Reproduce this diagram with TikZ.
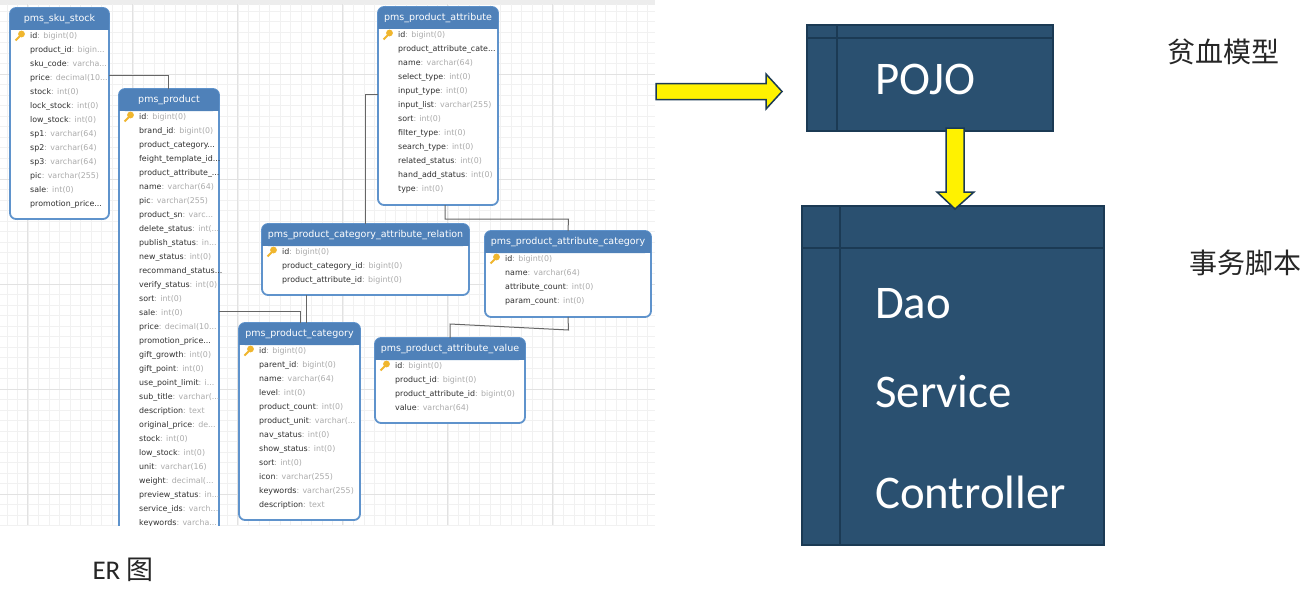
\documentclass[tikz,border=0pt]{standalone}
\usepackage{fontspec}
\setmainfont{DejaVu Sans}
\newfontfamily\carl{Carlito}
\newfontfamily\cjk{Noto Sans CJK SC}
\definecolor{tborder}{HTML}{5F93CC}
\definecolor{thead}{HTML}{4F81B9}
\definecolor{rname}{HTML}{303030}
\definecolor{rtype}{HTML}{ABABAB}
\definecolor{gridmin}{HTML}{F1F1F1}
\definecolor{gridmaj}{HTML}{E2E2E2}
\definecolor{navy}{HTML}{2A5070}
\definecolor{navyline}{HTML}{1B3A54}
\definecolor{keygold}{HTML}{F0B62E}
\definecolor{conn}{HTML}{666666}
\tikzset{
  tbl/.style={draw=tborder,line width=1.8pt,fill=white,rounded corners=6pt,anchor=north west,inner sep=0pt,outer sep=0pt},
  ttitle/.style={text=white,font=\fontsize{9.5}{11}\selectfont,inner sep=0pt},
  trow/.style={anchor=west,inner sep=0pt,font=\fontsize{7.9}{9}\selectfont},
  connline/.style={draw=conn,line width=1pt},
  bluebox/.style={fill=navy,draw=navyline,line width=1.8pt,anchor=north west,inner sep=0pt,outer sep=0pt},
  inner/.style={draw=navyline,line width=1.8pt},
  bigtext/.style={text=white,anchor=west,inner sep=0pt,font=\carl\fontsize{46.8}{52}\selectfont},
  yarrow/.style={fill=yellow,draw=navyline,line width=1.5pt,line join=miter},
  cjklabel/.style={inner sep=0pt,font=\cjk\fontsize{28}{32}\selectfont,text=black!85},
}
\newcommand\dd{...}
\catcode`\_=12
\newcommand\ertable[7]{%
  \node[tbl,minimum width=#4pt,minimum height=#5pt] (#1) at (#2,#3) {};
  \fill[thead,rounded corners=6pt] (#2,#3+22) -- (#2,#3) -- (#2+#4,#3) -- (#2+#4,#3+22) -- cycle;
  \fill[thead] (#2,#3+14) rectangle (#2+#4,#3+22);
  \node[ttitle] (#1-title) at (#2+#4/2,#3+11.5) {#6};
  \fill[keygold] (#2+11.5,#3+26) circle (3.4pt);
  \draw[keygold,line width=2pt] (#2+10,#3+28) -- (#2+5.5,#3+32.5);
  \foreach \a/\b [count=\i from 0] in {#7} {
    \node[trow] (#1-r\i) at (#2+20,#3+28+14*\i) {\textcolor{rname}{\a}\textcolor{rtype}{\b}};
  }
}
\begin{document}
\begin{tikzpicture}[x=1pt,y=-1pt]
\useasboundingbox (0,0) rectangle (1316,594);
\fill[white] (0,0) rectangle (1316,594);
\fill[black!7] (0,0) rectangle (655,5);
\begin{scope}
\clip (0,5) rectangle (655,525);
\foreach \k in {0,...,62} \draw[gridmin,line width=0.6pt] (7+10.5*\k,0) -- (7+10.5*\k,525);
\foreach \k in {0,...,50} \draw[gridmin,line width=0.6pt] (0,11+10.5*\k) -- (655,11+10.5*\k);
\foreach \k in {0,...,6} \draw[gridmaj,line width=0.8pt] (27+105*\k,0) -- (27+105*\k,525);
\foreach \k in {0,...,5} \draw[gridmaj,line width=0.8pt] (0,74+105*\k) -- (655,74+105*\k);
\ertable{skustock}{10}{8}{99}{211}{pms_sku_stock}{id/: bigint(0),product_id/: bigin\dd,sku_code/: varcha\dd,price/: decimal(10\dd,stock/: int(0),lock_stock/: int(0),low_stock/: int(0),sp1/: varchar(64),sp2/: varchar(64),sp3/: varchar(64),pic/: varchar(255),sale/: int(0),promotion_price\dd/{}}
\ertable{product}{119}{89}{100}{470}{pms_product}{id/: bigint(0),brand_id/: bigint(0),product_category\dd/{},feight_template_id\dd/{},product_attribute_\dd/{},name/: varchar(64),pic/: varchar(255),product_sn/: varc\dd,delete_status/: int(\dd,publish_status/: in\dd,new_status/: int(0),recommand_status\dd/{},verify_status/: int(0),sort/: int(0),sale/: int(0),price/: decimal(10\dd,promotion_price\dd/{},gift_growth/: int(0),gift_point/: int(0),use_point_limit/: i\dd,sub_title/: varchar(\dd,description/: text,original_price/: de\dd,stock/: int(0),low_stock/: int(0),unit/: varchar(16),weight/: decimal(\dd,preview_status/: in\dd,service_ids/: varch\dd,keywords/: varcha\dd}
\ertable{attribute}{378}{7}{120}{198}{pms_product_attribute}{id/: bigint(0),product_attribute_cate\dd/{},name/: varchar(64),select_type/: int(0),input_type/: int(0),input_list/: varchar(255),sort/: int(0),filter_type/: int(0),search_type/: int(0),related_status/: int(0),hand_add_status/: int(0),type/: int(0)}
\ertable{relation}{262}{224}{207}{71}{pms_product_category_attribute_relation}{id/: bigint(0),product_category_id/: bigint(0),product_attribute_id/: bigint(0)}
\ertable{attrcat}{485}{231}{166}{86}{pms_product_attribute_category}{id/: bigint(0),name/: varchar(64),attribute_count/: int(0),param_count/: int(0)}
\ertable{category}{239}{323}{121}{197}{pms_product_category}{id/: bigint(0),parent_id/: bigint(0),name/: varchar(64),level/: int(0),product_count/: int(0),product_unit/: varchar(\dd,nav_status/: int(0),show_status/: int(0),sort/: int(0),icon/: varchar(255),keywords/: varchar(255),description/: text}
\ertable{attrvalue}{375}{338}{150}{85}{pms_product_attribute_value}{id/: bigint(0),product_id/: bigint(0),product_attribute_id/: bigint(0),value/: varchar(64)}
\draw[connline] (skustock.east |- 0,75) -| (168,0 |- product.north);
\draw[connline] (product.east |- 0,311) -| (300,0 |- category.north);
\draw[connline] (306.5,0 |- relation.south) -- (306.5,0 |- category.north);
\draw[connline] (attribute.west |- 0,94) -| (365,0 |- relation.north);
\draw[connline] (445,0 |- attribute.south) |- (568.5,219) -- (attrcat.north);
\draw[connline] (attrcat.south) -- (568.5,330) -- (450,324) -- (450,0 |- attrvalue.north);
\end{scope}
\node[bluebox,minimum width=246pt,minimum height=106pt] (pojo) at (807,25) {};
\draw[inner] (837,0 |- pojo.north) -- (837,0 |- pojo.south);
\draw[inner] (pojo.west |- 0,38) -- (pojo.east |- 0,38);
\node[bigtext] (pojot) at (875,79) {POJO};
\node[bluebox,minimum width=302pt,minimum height=339pt] (script) at (802,206) {};
\draw[inner] (840,0 |- script.north) -- (840,0 |- script.south);
\draw[inner] (script.west |- 0,248) -- (script.east |- 0,248);
\node[bigtext] (dao) at (875,304) {Dao};
\node[bigtext] (service) at (875,392) {Service};
\node[bigtext] (controller) at (875,492) {Controller};
\draw[yarrow] (656,83.5) -- (766,83.5) -- (766,74) -- (782,91.5) -- (766,109) -- (766,99.5) -- (656,99.5) -- cycle;
\draw[yarrow] (946,128) -- (964,128) -- (964,192) -- (974,192) -- (955,209) -- (937,192) -- (946,192) -- cycle;
\node[cjklabel] (lab1) at (1223.5,52) {贫血模型};
\node[cjklabel] (lab2) at (1245.5,263) {事务脚本};
\node[inner sep=0pt,font=\fontsize{27}{30}\selectfont,text=black!85] (lab3) at (123,570) {{\carl ER }{\cjk 图}};
\end{tikzpicture}
\end{document}
